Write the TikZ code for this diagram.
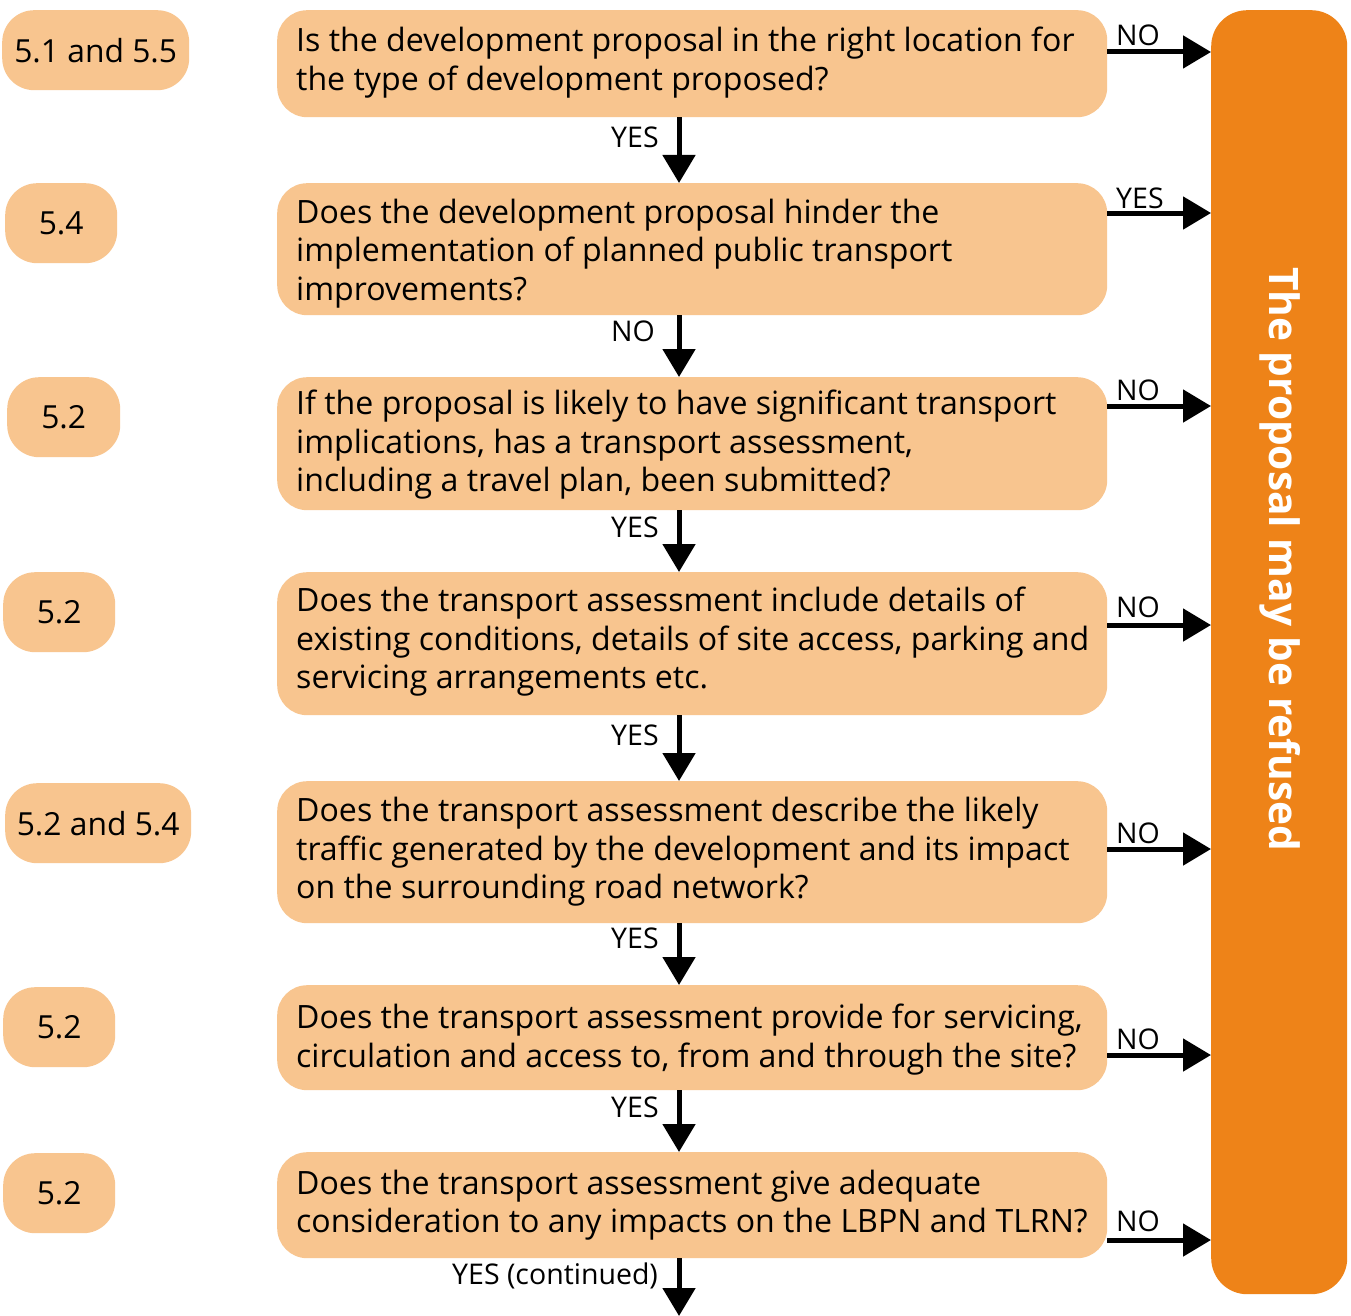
\documentclass[tikz,border=0pt]{standalone}
\usepackage{fontspec}
\setmainfont{Open Sans}
\usetikzlibrary{arrows.meta}
\definecolor{peach}{HTML}{F8C58F}
\definecolor{dorange}{HTML}{EE8318}
\begin{document}
\begin{tikzpicture}[x=1pt,y=-1pt,
  qbox/.style={fill=peach, rounded corners=30pt, minimum width=830pt, anchor=north west,
    inner sep=0pt},
  qtext/.style={anchor=west, align=left, inner sep=0pt,
    font=\fontsize{32.1}{38.5}\selectfont},
  sbox/.style={fill=peach, rounded corners=32pt, anchor=north west, minimum height=80pt,
    inner sep=0pt, font=\fontsize{31.8}{36}\selectfont},
  lab/.style={font=\fontsize{28.5}{30}\selectfont, inner sep=0pt},
  arr/.style={line width=5pt, -{Triangle[length=28pt,width=32pt]}}]
\useasboundingbox (0,0) rectangle (1351,1316);
\fill[white] (0,0) rectangle (1351,1316);
% refuse box
\node[fill=dorange, rounded corners=36pt, anchor=north west, minimum width=136pt,
  minimum height=1284pt, inner sep=0pt] (R) at (1211,10) {};
\node[rotate=-90, text=white, font=\fontsize{40.6}{44}\selectfont\bfseries] (Rt) at (1280,559) {The proposal may be refused};
% question boxes
\node[qbox, minimum height=107pt] (q1) at (277,10) {};
\node[qbox, minimum height=132pt] (q2) at (277,183) {};
\node[qbox, minimum height=133pt] (q3) at (277,377) {};
\node[qbox, minimum height=143pt] (q4) at (277,572) {};
\node[qbox, minimum height=142pt] (q5) at (277,781) {};
\node[qbox, minimum height=105pt] (q6) at (277,985) {};
\node[qbox, minimum height=106pt] (q7) at (277,1152) {};
\node[qtext] (t1) at (296,62.5) {Is the development proposal in the right location for\\the type of development proposed?};
\node[qtext] (t2) at (296,253.5) {Does the development proposal hinder the\\implementation of planned public transport\\improvements?};
\node[qtext] (t3) at (296,445) {If the proposal is likely to have significant transport\\implications, has a transport assessment,\\including a travel plan, been submitted?};
\node[qtext] (t4) at (296,642) {Does the transport assessment include details of\\existing conditions, details of site access, parking and\\servicing arrangements etc.};
\node[qtext] (t5) at (296,852) {Does the transport assessment describe the likely\\traffic generated by the development and its impact\\on the surrounding road network?};
\node[qtext] (t6) at (296,1039.5) {Does the transport assessment provide for servicing,\\circulation and access to, from and through the site?};
\node[qtext] (t7) at (296,1205) {Does the transport assessment give adequate\\consideration to any impacts on the LBPN and TLRN?};
% section boxes
\node[sbox, minimum width=187pt] (s1) at (2,10) {5.1 and 5.5};
\node[sbox, minimum width=112pt] (s2) at (5,183) {5.4};
\node[sbox, minimum width=113pt] (s3) at (7,377) {5.2};
\node[sbox, minimum width=112pt] (s4) at (3,572) {5.2};
\node[sbox, minimum width=186pt] (s5) at (5,783) {5.2 and 5.4};
\node[sbox, minimum width=112pt] (s6) at (3,987) {5.2};
\node[sbox, minimum width=112pt] (s7) at (3,1153) {5.2};
% helper coordinates
\coordinate (dx) at (679,0);
\coordinate (end) at (679,1316);
\coordinate (r1) at (0,52);
\coordinate (r2) at (0,213);
\coordinate (r3) at (0,406);
\coordinate (r4) at (0,625);
\coordinate (r5) at (0,849);
\coordinate (r6) at (0,1055);
\coordinate (r7) at (0,1240);
% down arrows
\draw[arr] (q1.south -| dx) -- (q2.north -| dx);
\draw[arr] (q2.south -| dx) -- (q3.north -| dx);
\draw[arr] (q3.south -| dx) -- (q4.north -| dx);
\draw[arr] (q4.south -| dx) -- (q5.north -| dx);
\draw[arr] (q5.south -| dx) -- (q6.north -| dx);
\draw[arr] (q6.south -| dx) -- (q7.north -| dx);
\draw[arr] (q7.south -| dx) -- (end);
\node[lab, anchor=base west] (d1) at (611,148) {YES};
\node[lab, anchor=base west] (d2) at (611,341) {NO};
\node[lab, anchor=base west] (d3) at (611,537) {YES};
\node[lab, anchor=base west] (d4) at (611,745) {YES};
\node[lab, anchor=base west] (d5) at (611,948) {YES};
\node[lab, anchor=base west] (d6) at (611,1117) {YES};
\node[lab, anchor=base west] (d7) at (452,1284) {YES (continued)};
% right arrows
\draw[arr] (q1.east |- r1) -- (R.west |- r1);
\draw[arr] (q2.east |- r2) -- (R.west |- r2);
\draw[arr] (q3.east |- r3) -- (R.west |- r3);
\draw[arr] (q4.east |- r4) -- (R.west |- r4);
\draw[arr] (q5.east |- r5) -- (R.west |- r5);
\draw[arr] (q6.east |- r6) -- (R.west |- r6);
\draw[arr] (q7.east |- r7) -- (R.west |- r7);
\node[lab, anchor=base west] (e1) at (1116,46) {NO};
\node[lab, anchor=base west] (e2) at (1116,208) {YES};
\node[lab, anchor=base west] (e3) at (1116,400) {NO};
\node[lab, anchor=base west] (e4) at (1116,617) {NO};
\node[lab, anchor=base west] (e5) at (1116,843) {NO};
\node[lab, anchor=base west] (e6) at (1116,1049) {NO};
\node[lab, anchor=base west] (e7) at (1116,1231) {NO};
\end{tikzpicture}
\end{document}
